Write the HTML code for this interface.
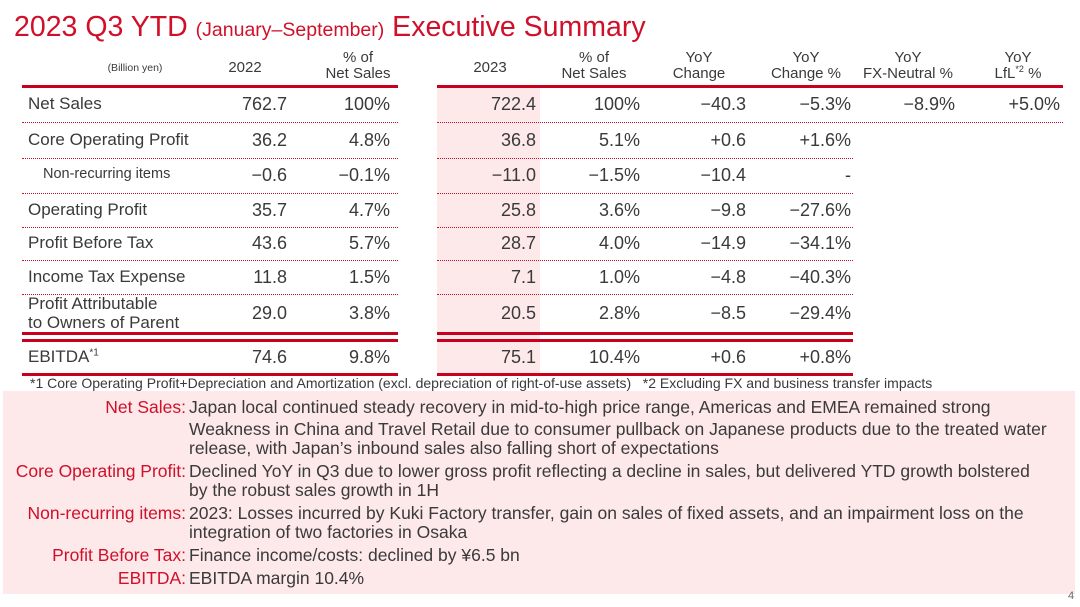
<!DOCTYPE html>
<html><head><meta charset="utf-8">
<style>
*{margin:0;padding:0;box-sizing:border-box}
body{width:1080px;height:607px;background:#fff;position:relative;overflow:hidden;font-family:"Liberation Sans",sans-serif;color:#3a3a3a}
.a{position:absolute;white-space:nowrap}
.r{text-align:right}
.c{text-align:center}
.red{color:#d0102a}
.dot{position:absolute;height:0;border-top:1px dotted #d0102a}
.thick{position:absolute;height:3px;background:#c8001e}
sup{line-height:0}
</style></head><body>
<div class="a red" style="left:14px;top:10px;font-size:28.5px;line-height:34px">2023 Q3 YTD <span style="font-size:19.5px">(January–September)</span> Executive Summary</div>

<div class="a" style="left:437px;top:88px;width:103px;height:286px;background:#fde8ea"></div>

<div class="a c" style="left:85px;top:62px;width:100px;font-size:10.5px">(Billion yen)</div>
<div id="hdr"></div>
<div id="tbl"></div>

<div class="a" style="left:30px;top:375px;font-size:14px">*1 Core Operating Profit+Depreciation and Amortization (excl. depreciation of right-of-use assets)&nbsp;&nbsp;&nbsp;*2 Excluding FX and business transfer impacts</div>

<div class="a" style="left:3px;top:391px;width:1072px;height:203px;background:#fde8ea"></div>
<div id="notes"></div>
<div class="a" style="left:1068px;top:590px;font-size:11px;color:#666">4</div>

<script>
const headers=[["2022",245],["% of<br>Net Sales",358],["2023",490],["% of<br>Net Sales",594],["YoY<br>Change",699],["YoY<br>Change %",806],["YoY<br>FX-Neutral %",908],["YoY<br>LfL<sup style='font-size:9px'>*2</sup> %",1018]];
const rowLabels=["Net Sales","Core Operating Profit","Non-recurring items","Operating Profit","Profit Before Tax","Income Tax Expense","Profit Attributable<br>to Owners of Parent","EBITDA<sup style='font-size:10px'>*1</sup>"];
const v2022=["762.7","36.2","−0.6","35.7","43.6","11.8","29.0","74.6"];
const p2022=["100%","4.8%","−0.1%","4.7%","5.7%","1.5%","3.8%","9.8%"];
const v2023=["722.4","36.8","−11.0","25.8","28.7","7.1","20.5","75.1"];
const p2023=["100%","5.1%","−1.5%","3.6%","4.0%","1.0%","2.8%","10.4%"];
const yoyChg=["−40.3","+0.6","−10.4","−9.8","−14.9","−4.8","−8.5","+0.6"];
const yoyPct=["−5.3%","+1.6%","-","−27.6%","−34.1%","−40.3%","−29.4%","+0.8%"];
const fxNeutral=["−8.9%","","","","","","",""];
const lfl=["+5.0%","","","","","","",""];
const rowY=[104,140,175,210,243,277,313,357];
const lineY=[122,158,193,227,260,294];
const colRight=[287,390,536,640,746,851,955,1060];

const H=document.getElementById('hdr');
headers.forEach((h,i)=>{const d=document.createElement('div');d.className='a c';


const two=h[0].includes('<br>');
d.style.cssText=`left:${h[1]-60}px;width:120px;top:${two?50:60}px;font-size:15px;line-height:16px`;d.innerHTML=h[0];H.appendChild(d);});
function line(cls,x,y,w,name){const d=document.createElement('div');d.className=cls;d.style.cssText=`left:${x}px;top:${y}px;width:${w}px`;


H.appendChild(d);}
line('thick',22,85,376,'header-rule-left');line('thick',437,85,626,'header-rule-right');
lineY.forEach((y,i)=>{line('dot',22,y,376,'row-divider');line('dot',437,y,i==0?626:416,'row-divider');});
[332,339,373].forEach(y=>{line('thick',22,y,376,'total-rule');line('thick',437,y,416,'total-rule');});

const T=document.getElementById('tbl');
const cols=[v2022,p2022,v2023,p2023,yoyChg,yoyPct,fxNeutral,lfl];
rowLabels.forEach((lab,i)=>{
 const d=document.createElement('div');d.className='a';
 
 
 const two=lab.includes('<br>');const small=i==2;
 d.style.cssText=`left:${small?43:28}px;top:${rowY[i]-(two?19:10)}px;font-size:${small?14.5:17}px;line-height:19px`;d.innerHTML=lab;T.appendChild(d);
 cols.forEach((arr,j)=>{if(!arr[i])return;const c=document.createElement('div');c.className='a r';
 
 
 c.style.cssText=`left:${colRight[j]-100}px;width:100px;top:${rowY[i]-11}px;font-size:18px;line-height:22px`;c.textContent=arr[i];T.appendChild(c);});
});

const noteLabels=["Net Sales:","","","Core Operating Profit:","","Non-recurring items:","","Profit Before Tax:","EBITDA:"];
const noteText=["Japan local continued steady recovery in mid-to-high price range, Americas and EMEA remained strong","Weakness in China and Travel Retail due to consumer pullback on Japanese products due to the treated water","release, with Japan’s inbound sales also falling short of expectations","Declined YoY in Q3 due to lower gross profit reflecting a decline in sales, but delivered YTD growth bolstered","by the robust sales growth in 1H","2023: Losses incurred by Kuki Factory transfer, gain on sales of fixed assets, and an impairment loss on the","integration of two factories in Osaka","Finance income/costs: declined by ¥6.5 bn","EBITDA margin 10.4%"];
const noteY=[407,429,448,471,490,513,532,555,578];
const N=document.getElementById('notes');
noteText.forEach((t,i)=>{
 if(noteLabels[i]){const l=document.createElement('div');l.className='a r red';
 
 
 l.style.cssText=`left:0;width:186px;top:${noteY[i]-10}px;font-size:17.5px;line-height:20px`;l.textContent=noteLabels[i];N.appendChild(l);}
 const d=document.createElement('div');d.className='a';
 
 
 d.style.cssText=`left:189px;top:${noteY[i]-10}px;font-size:17.5px;line-height:20px`;d.textContent=t;N.appendChild(d);
});
</script>
</body></html>
